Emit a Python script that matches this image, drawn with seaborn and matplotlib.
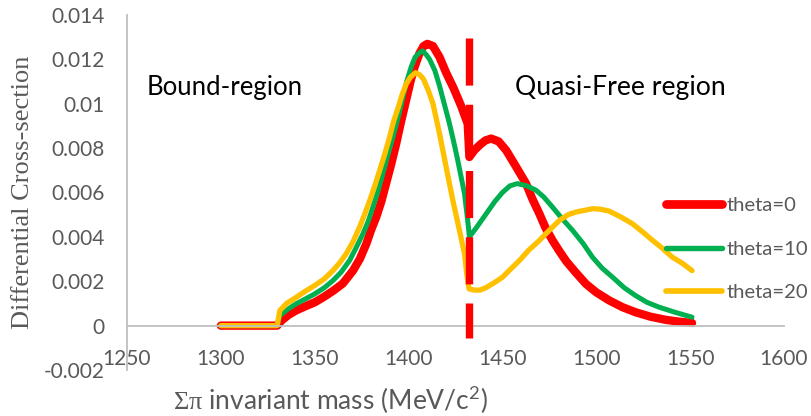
import matplotlib
matplotlib.use("Agg")
import matplotlib.pyplot as plt
import seaborn as sns
import pandas as pd
from matplotlib.lines import Line2D
from matplotlib.ticker import MultipleLocator, FixedLocator, FixedFormatter

# values
theta0_x = [1300, 1330, 1332.3, 1336, 1340, 1345, 1350, 1355, 1360, 1365, 1370.4, 1374,
            1377.5, 1380, 1382.8, 1385.5, 1388, 1390.8, 1393.4, 1396, 1398.8, 1401, 1403.2,
            1405.8, 1408, 1410, 1413, 1416.5, 1420, 1424, 1428, 1431.5, 1432.4, 1435, 1438,
            1441, 1444, 1448, 1452, 1457, 1462.6, 1466, 1469.7, 1473, 1476.7, 1480, 1484,
            1489, 1494.5, 1500, 1507, 1514, 1521, 1529, 1537, 1544, 1551]
theta0_y = [0, 0, 0.00023, 0.00048, 0.00068, 0.00087, 0.00105, 0.0013, 0.00158, 0.0019, 0.00248, 0.0030,
            0.00369, 0.0043, 0.0049, 0.0056, 0.0064, 0.0073, 0.0082, 0.0092, 0.0102, 0.0110, 0.01166,
            0.01227, 0.0126, 0.0127, 0.0126, 0.0121, 0.0114, 0.0107, 0.0099, 0.0091, 0.0076, 0.0079, 0.00815,
            0.00835, 0.00843, 0.0083, 0.0079, 0.0072, 0.0064, 0.0057, 0.00504, 0.0044, 0.00384, 0.0034, 0.0029,
            0.0024, 0.00188, 0.0015, 0.00113, 0.00083, 0.0006, 0.0004, 0.00026, 0.00018, 0.00012]

theta10_x = [1300, 1330, 1331.4, 1335, 1340, 1345, 1350, 1355, 1359.7, 1364, 1368.6, 1372,
             1375.7, 1378.5, 1381, 1383.5, 1386.3, 1389, 1391.7, 1394.5, 1397, 1399, 1401.4,
             1403.5, 1405.8, 1407.5, 1409.5, 1411.2, 1414, 1416.5, 1419, 1421.8, 1424, 1426.2,
             1428, 1429.8, 1431.5, 1432.4, 1436, 1441, 1446, 1450, 1454, 1458, 1463, 1467.9,
             1472, 1476.7, 1482, 1487.4, 1493, 1498, 1503, 1508.7, 1515, 1521, 1527, 1533.5, 1542, 1551]
theta10_y = [0, 0, 0.00045, 0.0007, 0.00098, 0.0012, 0.00143, 0.0017, 0.00203, 0.0024, 0.00294, 0.0035,
             0.00414, 0.0047, 0.00534, 0.0060, 0.00685, 0.0077, 0.0085, 0.0094, 0.0103, 0.0110, 0.01166,
             0.0121, 0.0123, 0.01238, 0.0122, 0.0120, 0.0115, 0.0108, 0.0100, 0.0091, 0.0083, 0.00745,
             0.0067, 0.00594, 0.00474, 0.0040, 0.0044, 0.0050, 0.0056, 0.0060, 0.0063, 0.0064, 0.0063, 0.0061,
             0.0058, 0.00534, 0.0048, 0.00429, 0.0037, 0.00308, 0.0026, 0.00218, 0.0017, 0.00135, 0.00105, 0.00083, 0.0006, 0.00038]

theta20_x = [1300, 1330, 1331.4, 1335, 1340.2, 1345, 1350, 1355, 1359.7, 1363, 1366.8, 1370.5,
             1373.9, 1376.5, 1379.3, 1382, 1384.6, 1387.2, 1389.9, 1392, 1394.3, 1396.5, 1398.8,
             1401, 1403.7, 1406, 1408, 1410.5, 1413, 1416.5, 1420, 1423.6, 1427.1, 1429.8, 1431,
             1432.2, 1435, 1438, 1441, 1445, 1450, 1455, 1459, 1464, 1469.7, 1475, 1480.3, 1485,
             1489.2, 1494, 1498, 1502, 1506.9, 1513, 1519.3, 1525, 1530, 1535, 1540.6, 1546, 1551]
theta20_y = [0, 0, 0.00068, 0.001, 0.00128, 0.00155, 0.00181, 0.0021, 0.00248, 0.0028, 0.00324, 0.0038,
             0.00444, 0.0050, 0.00564, 0.0063, 0.0070, 0.0077, 0.0085, 0.0092, 0.00978, 0.0104, 0.0109,
             0.0112, 0.0114, 0.0113, 0.0111, 0.0106, 0.0100, 0.00865, 0.00715, 0.00564, 0.00429, 0.00324, 0.00233,
             0.00166, 0.0016, 0.0016, 0.0017, 0.0019, 0.00218, 0.0026, 0.00293, 0.0034, 0.00384, 0.0043, 0.00474, 0.0050,
             0.00512, 0.0052, 0.00527, 0.00525, 0.00516, 0.0049, 0.00459, 0.0042, 0.00384, 0.0035, 0.00308, 0.0028, 0.00248]

labels = ["theta=0", "theta=10", "theta=20"]
colors = ["#FF0000", "#00B050", "#FFC000"]
widths = [6.0, 3.6, 3.8]

boundary_x = 1432.4
boundary_y = [0.01296, -0.00054]

x_ticks = [1250, 1300, 1350, 1400, 1450, 1500, 1550, 1600]
y_ticks = [-0.002, 0, 0.002, 0.004, 0.006, 0.008, 0.01, 0.012, 0.014]

sns.set_style("white")
plt.rcParams["font.family"] = ["Lato", "DejaVu Sans"]
plt.rcParams["mathtext.fontset"] = "custom"
plt.rcParams["mathtext.rm"] = "Liberation Serif"
plt.rcParams["mathtext.sf"] = "Lato"

grey = "#595959"
axis_grey = "#BFBFBF"

fig = plt.figure(figsize=(8.12, 4.16), dpi=100)
ax = fig.add_axes([127 / 812, 46 / 416, 657 / 812, 355 / 416])

series = [(theta0_x, theta0_y), (theta10_x, theta10_y), (theta20_x, theta20_y)]
for (xs, ys), lab, c, w in zip(series, labels, colors, widths):
    df = pd.DataFrame({"mass": xs, "xs": ys})
    sns.lineplot(data=df, x="mass", y="xs", ax=ax, color=c, linewidth=w,
                 sort=False, estimator=None, solid_capstyle="round",
                 solid_joinstyle="round", legend=False)

# boundary between bound and quasi-free region
ax.plot([boundary_x, boundary_x], boundary_y, color="#FF0000", lw=5.3,
        linestyle=(0, (6.4, 2.6)), dash_capstyle="butt", zorder=5)

ax.set_xlim(1250, 1600)
ax.set_ylim(-0.002, 0.014)
ax.set_xlabel("")
ax.set_ylabel("")

for s in ["top", "right"]:
    ax.spines[s].set_visible(False)
ax.spines["bottom"].set_position(("data", 0))
for s in ["bottom", "left"]:
    ax.spines[s].set_color(axis_grey)
    ax.spines[s].set_linewidth(1.3)

ax.xaxis.set_major_locator(FixedLocator(x_ticks))
ax.xaxis.set_major_formatter(FixedFormatter([str(v) for v in x_ticks]))
ax.xaxis.set_minor_locator(MultipleLocator(10))
ax.yaxis.set_major_locator(FixedLocator(y_ticks))
ax.yaxis.set_major_formatter(FixedFormatter(["%g" % v for v in y_ticks]))
ax.yaxis.set_minor_locator(MultipleLocator(0.0004))

ax.tick_params(axis="x", which="both", direction="in", color=axis_grey, width=1.0,
               labelsize=15, labelcolor=grey, pad=17)
ax.tick_params(axis="y", which="both", direction="in", color=axis_grey, width=1.0,
               labelsize=15, labelcolor=grey, pad=16)
ax.tick_params(which="major", length=5.5)
ax.tick_params(which="minor", length=4)

fig.text(23 / 812, 1 - 192 / 416, "Differential Cross-section", rotation=90,
         ha="center", va="center", fontsize=19, color=grey, family="Liberation Serif")
fig.text(330 / 812, 1 - 400 / 416, r"$\mathrm{\Sigma\pi}$ invariant mass (MeV/c$^{\mathsf{2}}$)",
         ha="center", va="center", fontsize=19, color=grey)

fig.text(147 / 812, 1 - 95 / 416, "Bound-region", ha="left", va="baseline",
         fontsize=18.5, color="black")
fig.text(515 / 812, 1 - 95 / 416, "Quasi-Free region", ha="left", va="baseline",
         fontsize=19.2, color="black")

handles = [Line2D([0], [0], color=c, lw=w + 0.3, solid_capstyle="round")
           for c, w in zip(colors, widths)]
leg = ax.legend(handles, labels, loc="upper left", bbox_to_anchor=(0.8206, 0.487),
                frameon=False, fontsize=14.6, handlelength=2.75, handletextpad=0.25,
                labelspacing=1.3, borderpad=0, borderaxespad=0)
for t in leg.get_texts():
    t.set_color(grey)

fig.savefig("out.png", dpi=100)
